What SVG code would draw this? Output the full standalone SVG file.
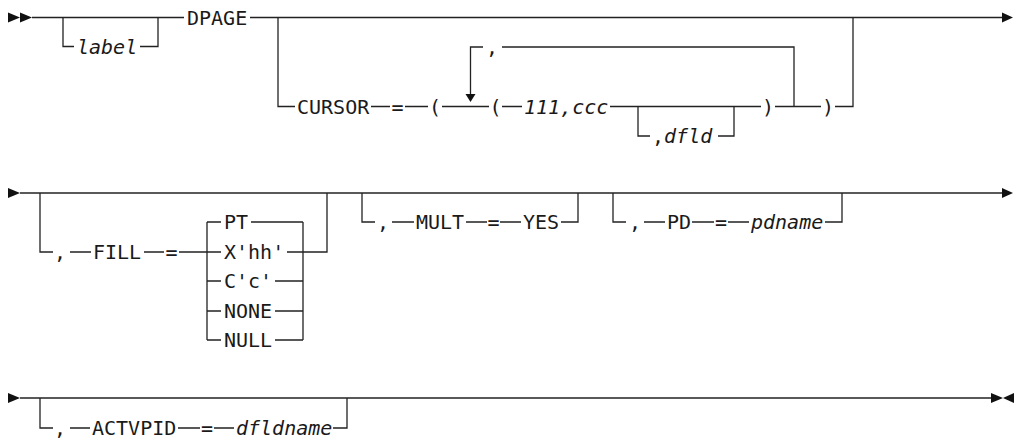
<svg xmlns="http://www.w3.org/2000/svg" width="1018" height="441" viewBox="0 0 1018 441">
<style>
.ln{fill:none;stroke:#222;stroke-width:1.3}
.ah{fill:#111;stroke:none}
text{font-family:"DejaVu Sans Mono","Liberation Mono",monospace;font-size:20px;fill:#1a1a1a}
.v{font-style:italic}
</style>
<rect width="1018" height="441" fill="#fff"/>
<g id="connectors">
<!-- row 1 -->
<path class="ln" d="M32 17.5 H184 M250 17.5 H1002"/>
<path class="ln" d="M63 17.5 V46.5 H74 M140 46.5 H158 V17.5"/>
<path class="ln" d="M278 17.5 V106.5 H295 M371 106.5 H390 M405 106.5 H428 M442 106.5 H489 M502 106.5 H522 M610 106.5 H761 M775 106.5 H821 M835 106.5 H853 V17.5"/>
<path class="ln" d="M794 106.5 V47 H502 M483 47 H470.5 V95"/>
<path class="ln" d="M638 106.5 V136 H650 M718 136 H734 V106.5"/>
<!-- row 2 -->
<path class="ln" d="M20 193 H1002"/>
<path class="ln" d="M40 193 V252 H53 M70 252 H91 M144 252 H164 M179 252 H207"/>
<path class="ln" d="M207 222 V340 M303 222 V340"/>
<path class="ln" d="M207 222 H221 M251 222 H303 M207 252 H221 M287 252 H327 V193 M207 281 H221 M275 281 H303 M207 311 H221 M275 311 H303 M207 340 H221 M275 340 H303"/>
<path class="ln" d="M362 193 V222 H375 M392 222 H414 M466 222 H487 M500 222 H521 M561 222 H578 V193"/>
<path class="ln" d="M613 193 V222 H626 M644 222 H665 M692 222 H714 M728 222 H749 M825 222 H842 V193"/>
<!-- row 3 -->
<path class="ln" d="M20 398 H991"/>
<path class="ln" d="M40 398 V428 H53 M70 428 H90 M178 428 H200 M214 428 H234 M333 428 H347 V398"/>
</g>
<g id="arrowheads">
<polygon class="ah" points="8,12.5 8,22.5 20,17.5"/>
<polygon class="ah" points="20,12.5 20,22.5 32,17.5"/>
<polygon class="ah" points="1002,12.5 1002,22.5 1013,17.5"/>
<polygon class="ah" points="465.5,94 475.5,94 470.5,102"/>
<polygon class="ah" points="8,188 8,198 20,193"/>
<polygon class="ah" points="1002,188 1002,198 1013,193"/>
<polygon class="ah" points="8,393 8,403 20,398"/>
<polygon class="ah" points="991,393 991,403 1003,398"/>
<polygon class="ah" points="1014,393 1014,403 1003,398"/>
</g>
<g id="n-label"><text class="v" x="77" y="53.5">label</text></g>
<g id="n-dpage"><text x="187" y="24.5">DPAGE</text></g>
<g id="n-cursor"><text x="297" y="113.5">CURSOR</text></g>
<g id="n-cursor-eq"><text x="391.5" y="113.5">=</text></g>
<g id="n-lparen1"><text x="429" y="113.5">(</text></g>
<g id="n-loop-comma"><text x="486" y="54">,</text></g>
<g id="n-lparen2"><text x="489.5" y="113.5">(</text></g>
<g id="n-111ccc"><text class="v" x="524" y="113.5">111,ccc</text></g>
<g id="n-dfld"><text x="652" y="143">,<tspan class="v">dfld</tspan></text></g>
<g id="n-rparen1"><text x="762" y="113.5">)</text></g>
<g id="n-rparen2"><text x="822" y="113.5">)</text></g>
<g id="n-fill-comma"><text x="54" y="259">,</text></g>
<g id="n-fill"><text x="93" y="259">FILL</text></g>
<g id="n-fill-eq"><text x="165.5" y="259">=</text></g>
<g id="n-pt"><text x="224" y="229">PT</text></g>
<g id="n-xhh"><text x="224" y="259">X'hh'</text></g>
<g id="n-cc"><text x="224" y="288">C'c'</text></g>
<g id="n-none"><text x="224" y="318">NONE</text></g>
<g id="n-null"><text x="224" y="347">NULL</text></g>
<g id="n-mult-comma"><text x="377" y="229">,</text></g>
<g id="n-mult"><text x="416" y="229">MULT</text></g>
<g id="n-mult-eq"><text x="487.5" y="229">=</text></g>
<g id="n-yes"><text x="523" y="229">YES</text></g>
<g id="n-pd-comma"><text x="629" y="229">,</text></g>
<g id="n-pd"><text x="667" y="229">PD</text></g>
<g id="n-pd-eq"><text x="715" y="229">=</text></g>
<g id="n-pdname"><text class="v" x="751" y="229">pdname</text></g>
<g id="n-act-comma"><text x="54" y="435">,</text></g>
<g id="n-actvpid"><text x="92" y="435">ACTVPID</text></g>
<g id="n-act-eq"><text x="201" y="435">=</text></g>
<g id="n-dfldname"><text class="v" x="236" y="435">dfldname</text></g>
</svg>
